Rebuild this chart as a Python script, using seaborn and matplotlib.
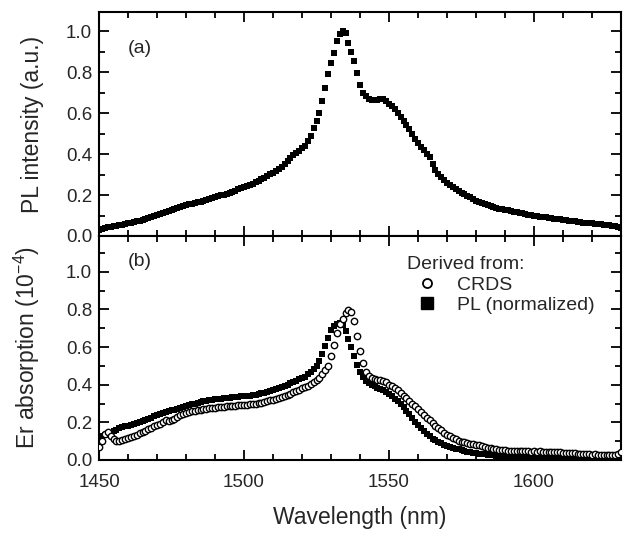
import numpy as np
import pandas as pd
import seaborn as sns
import matplotlib
matplotlib.use("Agg")
import matplotlib.pyplot as plt
from matplotlib.ticker import MultipleLocator, FormatStrFormatter
from matplotlib.lines import Line2D

# ---------------- data ----------------
wavelength = np.arange(1450, 1631)  # nm, 1 nm sampling

pl_intensity = [
    0.030, 0.035, 0.040, 0.042, 0.045, 0.047, 0.050, 0.052, 0.055, 0.058,
    0.062, 0.065, 0.068, 0.071, 0.075, 0.078, 0.082, 0.087, 0.092, 0.098,
    0.103, 0.108, 0.113, 0.118, 0.123, 0.128, 0.132, 0.137, 0.141, 0.146,
    0.150, 0.154, 0.157, 0.160, 0.164, 0.168, 0.172, 0.176, 0.180, 0.185,
    0.189, 0.193, 0.198, 0.202, 0.207, 0.212, 0.217, 0.222, 0.227, 0.232,
    0.238, 0.244, 0.250, 0.256, 0.262, 0.270, 0.277, 0.285, 0.294, 0.302,
    0.309, 0.318, 0.327, 0.338, 0.350, 0.366, 0.383, 0.395, 0.406, 0.417,
    0.428, 0.440, 0.465, 0.490, 0.525, 0.560, 0.600, 0.660, 0.720, 0.790,
    0.845, 0.895, 0.950, 0.985, 1.000, 0.990, 0.940, 0.900, 0.855, 0.795,
    0.735, 0.700, 0.682, 0.670, 0.665, 0.663, 0.665, 0.670, 0.668, 0.657,
    0.645, 0.632, 0.618, 0.600, 0.580, 0.562, 0.542, 0.520, 0.497, 0.475,
    0.455, 0.435, 0.418, 0.400, 0.385, 0.350, 0.322, 0.303, 0.287, 0.272,
    0.261, 0.251, 0.241, 0.231, 0.221, 0.212, 0.204, 0.196, 0.188, 0.180,
    0.170, 0.164, 0.159, 0.154, 0.149, 0.145, 0.141, 0.137, 0.134, 0.131,
    0.128, 0.125, 0.122, 0.119, 0.116, 0.113, 0.110, 0.107, 0.104, 0.101,
    0.099, 0.097, 0.095, 0.093, 0.091, 0.089, 0.087, 0.085, 0.083, 0.081,
    0.079, 0.077, 0.075, 0.073, 0.071, 0.069, 0.067, 0.065, 0.064, 0.062,
    0.061, 0.059, 0.058, 0.057, 0.055, 0.054, 0.052, 0.050, 0.047, 0.044,
    0.041,
]

absorption_pl = [
    0.120, 0.128, 0.135, 0.140, 0.146, 0.152, 0.160, 0.168, 0.174, 0.178,
    0.182, 0.186, 0.191, 0.197, 0.203, 0.208, 0.213, 0.219, 0.225, 0.232,
    0.238, 0.243, 0.248, 0.253, 0.258, 0.263, 0.268, 0.273, 0.278, 0.283,
    0.288, 0.292, 0.296, 0.300, 0.304, 0.308, 0.311, 0.314, 0.317, 0.320,
    0.322, 0.324, 0.326, 0.328, 0.330, 0.332, 0.334, 0.335, 0.336, 0.338,
    0.339, 0.340, 0.342, 0.344, 0.347, 0.350, 0.354, 0.358, 0.363, 0.368,
    0.373, 0.378, 0.383, 0.389, 0.395, 0.401, 0.407, 0.414, 0.421, 0.428,
    0.434, 0.442, 0.455, 0.468, 0.482, 0.497, 0.525, 0.565, 0.605, 0.650,
    0.690, 0.712, 0.725, 0.730, 0.715, 0.685, 0.645, 0.600, 0.555, 0.505,
    0.470, 0.440, 0.422, 0.410, 0.400, 0.393, 0.385, 0.378, 0.370, 0.360,
    0.350, 0.340, 0.326, 0.311, 0.295, 0.280, 0.262, 0.242, 0.222, 0.204,
    0.186, 0.170, 0.155, 0.140, 0.126, 0.114, 0.105, 0.097, 0.089, 0.082,
    0.076, 0.070, 0.065, 0.060, 0.056, 0.052, 0.048, 0.045, 0.042, 0.039,
    0.036, 0.034, 0.032, 0.030, 0.028, 0.026, 0.024, 0.022, 0.020, 0.018,
    0.016, 0.015, 0.014, 0.013, 0.012, 0.012, 0.011, 0.011, 0.010, 0.010,
    0.010, 0.010, 0.009, 0.009, 0.009, 0.009, 0.009, 0.008, 0.008, 0.008,
    0.008, 0.008, 0.008, 0.007, 0.007, 0.007, 0.007, 0.007, 0.007, 0.007,
    0.006, 0.006, 0.006, 0.006, 0.006, 0.006, 0.006, 0.006, 0.006, 0.006,
    0.006,
]

absorption_crds = [
    0.070, 0.100, 0.140, 0.150, 0.130, 0.110, 0.100, 0.100, 0.108, 0.110,
    0.115, 0.120, 0.125, 0.132, 0.145, 0.150, 0.156, 0.165, 0.172, 0.180,
    0.186, 0.192, 0.200, 0.210, 0.205, 0.215, 0.220, 0.226, 0.238, 0.245,
    0.250, 0.255, 0.259, 0.262, 0.264, 0.266, 0.269, 0.271, 0.274, 0.277,
    0.278, 0.280, 0.282, 0.283, 0.285, 0.286, 0.288, 0.289, 0.290, 0.290,
    0.291, 0.292, 0.295, 0.298, 0.300, 0.302, 0.305, 0.309, 0.313, 0.317,
    0.321, 0.325, 0.330, 0.335, 0.340, 0.346, 0.352, 0.360, 0.366, 0.373,
    0.380, 0.386, 0.394, 0.403, 0.413, 0.424, 0.438, 0.458, 0.480, 0.500,
    0.550, 0.610, 0.675, 0.720, 0.750, 0.780, 0.797, 0.785, 0.740, 0.660,
    0.580, 0.515, 0.470, 0.445, 0.435, 0.428, 0.425, 0.423, 0.420, 0.413,
    0.400, 0.392, 0.383, 0.370, 0.356, 0.342, 0.328, 0.315, 0.300, 0.285,
    0.270, 0.255, 0.240, 0.225, 0.210, 0.197, 0.183, 0.170, 0.157, 0.145,
    0.135, 0.125, 0.116, 0.109, 0.103, 0.098, 0.094, 0.090, 0.087, 0.085,
    0.082, 0.078, 0.074, 0.070, 0.066, 0.062, 0.060, 0.058, 0.055, 0.053,
    0.051, 0.050, 0.049, 0.048, 0.047, 0.047, 0.046, 0.046, 0.046, 0.045,
    0.046, 0.045, 0.047, 0.044, 0.045, 0.043, 0.044, 0.042, 0.041, 0.040,
    0.038, 0.037, 0.038, 0.035, 0.036, 0.034, 0.033, 0.032, 0.031, 0.030,
    0.029, 0.030, 0.028, 0.027, 0.028, 0.026, 0.025, 0.024, 0.026, 0.030,
    0.045,
]

xticks = [1450, 1500, 1550, 1600]
yticks = [0.0, 0.2, 0.4, 0.6, 0.8, 1.0]

df = pd.DataFrame({
    "wavelength": wavelength,
    "pl": pl_intensity,
    "abs_pl": absorption_pl,
    "abs_crds": absorption_crds,
})

# ---------------- style ----------------
sns.set_style("ticks")
plt.rcParams["font.family"] = ["Liberation Sans", "DejaVu Sans"]
plt.rcParams["mathtext.fontset"] = "custom"
plt.rcParams["mathtext.rm"] = "Liberation Sans"
plt.rcParams["mathtext.it"] = "Liberation Sans:italic"
plt.rcParams["axes.linewidth"] = 1.5
plt.rcParams["axes.edgecolor"] = "black"

fig = plt.figure(figsize=(6.24, 5.33), dpi=100)
W, H = 624, 533
left, right = 99, 621
ax_top = fig.add_axes([left / W, 1 - 236 / H, (right - left) / W, 224 / H])
ax_bot = fig.add_axes([left / W, 1 - 460 / H, (right - left) / W, 224 / H])

# top panel
sns.scatterplot(data=df, x="wavelength", y="pl", ax=ax_top, marker="s",
                s=21, color="black", linewidth=0, legend=False)
# bottom panel
sns.scatterplot(data=df, x="wavelength", y="abs_pl", ax=ax_bot, marker="s",
                s=21, color="black", linewidth=0, legend=False, zorder=2)
sns.scatterplot(data=df, x="wavelength", y="abs_crds", ax=ax_bot, marker="o",
                s=21, color="white", edgecolor="black", linewidth=1.0,
                legend=False, zorder=3)

for ax, ytop in ((ax_top, 1.093), (ax_bot, 1.19)):
    ax.set_xlim(1450, 1630)
    ax.set_ylim(0, ytop)
    ax.set_xticks(xticks)
    ax.set_yticks(yticks)
    ax.xaxis.set_minor_locator(MultipleLocator(10))
    ax.yaxis.set_minor_locator(MultipleLocator(0.1))
    ax.tick_params(which="both", direction="in", top=True, right=True,
                   color="black", width=1.3)
    ax.tick_params(which="major", length=7)
    ax.tick_params(which="minor", length=4)
    ax.tick_params(axis="y", labelsize=13.5, pad=5)
    ax.tick_params(axis="x", labelsize=13.5, pad=10)
    ax.yaxis.set_major_formatter(FormatStrFormatter("%.1f"))
    for sp in ax.spines.values():
        sp.set_linewidth(1.5)
        sp.set_visible(True)

ax_top.set_xlabel("")
ax_top.tick_params(axis="x", labelbottom=False)
ax_top.set_ylabel("PL intensity (a.u.)", fontsize=16.5)
ax_top.yaxis.set_label_coords(-0.106, 0.5)
ax_bot.set_ylabel("Er absorption (10$^{-4}$)", fontsize=16.5)
ax_bot.yaxis.set_label_coords(-0.110, 0.5)
ax_bot.set_xlabel("Wavelength (nm)", fontsize=16.5)
ax_bot.xaxis.set_label_coords(0.5, -0.205)

ax_top.text(0.056, 0.835, "(a)", transform=ax_top.transAxes, fontsize=14,
            va="center", ha="left")
ax_bot.text(0.056, 0.884, "(b)", transform=ax_bot.transAxes, fontsize=14,
            va="center", ha="left")

handles = [
    Line2D([], [], ls="", marker="o", mfc="white", mec="black", ms=6.5, mew=1.3),
    Line2D([], [], ls="", marker="s", color="black", ms=8.6),
]
leg = ax_bot.legend(handles, ["CRDS", "PL (normalized)"], title="Derived from:",
                    loc="upper left", bbox_to_anchor=(0.59, 0.91),
                    frameon=False, fontsize=14, title_fontsize=14,
                    alignment="left", borderpad=0, borderaxespad=0,
                    handlelength=2.1, handletextpad=0.45, labelspacing=0.15)

fig.savefig("out.png", dpi=100)
